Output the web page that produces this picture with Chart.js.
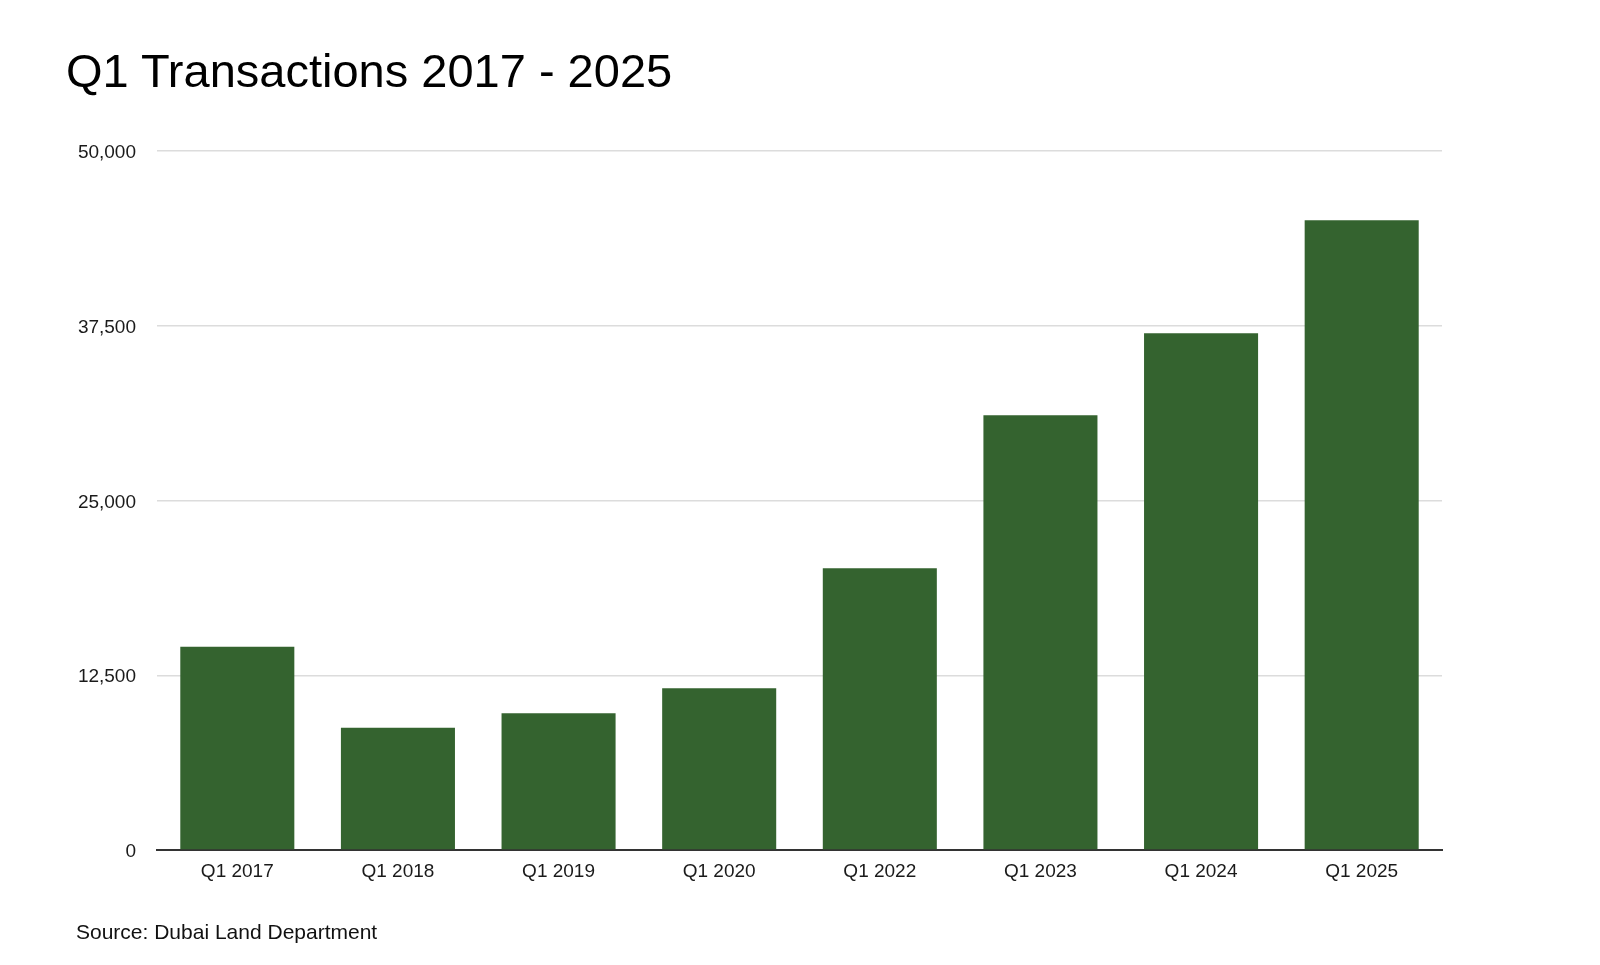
<!DOCTYPE html>
<html>
<head>
<meta charset="utf-8">
<script src="https://cdn.jsdelivr.net/npm/chart.js@4.4.1/dist/chart.umd.min.js"></script>
<style>
  html, body { margin: 0; padding: 0; background: #ffffff; }
  body { width: 1600px; height: 965px; position: relative; overflow: hidden; font-family: "Liberation Sans", Arial, Helvetica, sans-serif; }
  #wrap { position: absolute; left: 0; top: 0; width: 1600px; height: 965px; }
  #title { position: absolute; left: 66px; top: 47px; font-size: 47px; line-height: 1; color: #000000; white-space: nowrap; }
  #source { position: absolute; left: 76px; top: 921px; font-size: 21px; line-height: 1; color: #111111; white-space: nowrap; }
</style>
</head>
<body>
<div id="wrap"><canvas id="c"></canvas></div>
<div id="title">Q1 Transactions 2017 - 2025</div>
<div id="source">Source: Dubai Land Department</div>
<script>
const categories = ["Q1 2017", "Q1 2018", "Q1 2019", "Q1 2020", "Q1 2022", "Q1 2023", "Q1 2024", "Q1 2025"];
const transactions = [14540, 8750, 9780, 11570, 20150, 31090, 36960, 45040];
const yTicks = [0, 12500, 25000, 37500, 50000];

const ctx = document.getElementById('c');
new Chart(ctx, {
  type: 'bar',
  data: {
    labels: categories,
    datasets: [{
      label: 'Transactions',
      data: transactions,
      backgroundColor: '#34632f',
      borderWidth: 0,
      categoryPercentage: 1.0,
      barPercentage: 0.71
    }]
  },
  options: {
    responsive: true,
    maintainAspectRatio: false,
    animation: false,
    layout: { padding: { top: 151, left: 0, right: 158, bottom: 30 } },
    plugins: {
      legend: { display: false },
      tooltip: { enabled: false },
      title: { display: false }
    },
    scales: {
      x: {
        grid: { display: false, drawTicks: false },
        border: { display: true, color: '#333333', width: 2 },
        ticks: {
          color: '#1a1a1a',
          padding: 10,
          font: { family: '"Liberation Sans", Arial, Helvetica, sans-serif', size: 19 }
        },
        afterFit: (scale) => { scale.height = 85; }
      },
      y: {
        min: 0,
        max: 50000,
        afterBuildTicks: (scale) => { scale.ticks = yTicks.map(v => ({ value: v })); },
        grid: { color: '#dcdcdc', lineWidth: 1.5, drawTicks: false },
        border: { display: false },
        ticks: {
          color: '#1a1a1a',
          padding: 21,
          labelOffset: 2,
          font: { family: '"Liberation Sans", Arial, Helvetica, sans-serif', size: 19 },
          callback: (v) => Number(v).toLocaleString('en-US')
        },
        afterFit: (scale) => { scale.width = 157; }
      }
    }
  }
});
</script>
</body>
</html>
